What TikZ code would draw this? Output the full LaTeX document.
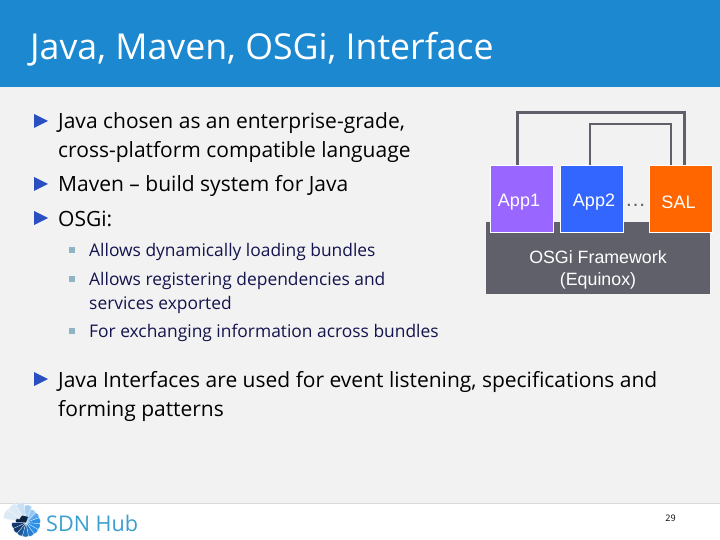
\documentclass[tikz,border=0pt]{standalone}
\usepackage{fontspec}
\setmainfont{Open Sans}
\newfontfamily\diagfont{Liberation Sans}
\usepackage{tikz}
\usetikzlibrary{positioning,calc}
\definecolor{headblue}{HTML}{1C88D0}
\definecolor{pagegrey}{HTML}{F2F2F2}
\definecolor{framegrey}{HTML}{5F6069}
\definecolor{bulletblue}{HTML}{2A4FC0}
\definecolor{subnavy}{HTML}{14144E}
\definecolor{subsquare}{HTML}{8FB4C4}
\definecolor{appviolet}{HTML}{9966FF}
\definecolor{appblue}{HTML}{3366FF}
\definecolor{salorange}{HTML}{FF6600}
\definecolor{logoblue}{HTML}{3AA0CF}
\definecolor{fanpale}{HTML}{DCEAF6}
\definecolor{fanbright}{HTML}{2C8FE8}
\definecolor{fandark}{HTML}{123A6E}
\begin{document}
\begin{tikzpicture}[
    x=1pt,
    y=-1pt,
    body/.style={anchor=base west, inner sep=0pt, font=\fontsize{21}{25}\selectfont},
    subtext/.style={anchor=base west, inner sep=0pt, text=subnavy, font=\fontsize{17.4}{21}\selectfont},
    appbox/.style={draw=white, line width=0.8pt, minimum width=63pt, minimum height=67pt, inner sep=0pt},
    applabel/.style={inner sep=0pt, text=white, font=\diagfont\fontsize{18}{20}\selectfont},
    thickbus/.style={draw=framegrey, line width=3pt},
    thinbus/.style={draw=framegrey, line width=2pt}
]
    % page, header and footer
    \useasboundingbox (0,0) rectangle (720,540);
    \fill[pagegrey] (0,0) rectangle (720,503);
    \fill[white] (0,503) rectangle (720,540);
    \draw[black!15, line width=0.8pt] (0,503) -- (720,503);
    \fill[headblue] (0,0) rectangle (720,87);
    \node[anchor=base west, inner sep=0pt, text=white, font=\fontsize{35.7}{40}\selectfont] (title) at (30,60) {Java, Maven, OSGi, Interface};

    % main bullets
    \foreach \y in {128,191,225,386}
        \fill[bulletblue] (34,\y-14) -- (48,\y-7) -- (34,\y) -- cycle;
    \node[body] (l1) at (58,129) {Java chosen as an enterprise-grade,};
    \node[body] (l2) at (58,158) {cross-platform compatible language};
    \node[body] (l3) at (58,192) {Maven -- build system for Java};
    \node[body] (l4) at (58,226) {OSGi:};
    \node[body] (l5) at (58,387) {Java Interfaces are used for event listening, specifications and};
    \node[body] (l6) at (58,416) {forming patterns};

    % sub bullets
    \foreach \y in {256,285,337}
        \fill[subsquare] (69,\y-9) rectangle (75,\y-3);
    \node[subtext] (s1) at (89,256) {Allows dynamically loading bundles};
    \node[subtext] (s2) at (89,285) {Allows registering dependencies and};
    \node[subtext] (s3) at (89,309) {services exported};
    \node[subtext] (s4) at (89,337) {For exchanging information across bundles};

    % framework and bundles
    \node[fill=framegrey, minimum width=224pt, minimum height=72pt, inner sep=0pt] (osgi) at (598,258) {};
    \node[text=white, align=center, font=\diagfont\fontsize{17.8}{22}\selectfont] (osgilabel) at (598,269.5) {OSGi Framework\\(Equinox)};
    \node[appbox, fill=appviolet] (app1) at (521.5,198.5) {};
    \node[appbox, fill=appblue] (app2) at (592,198.5) {};
    \node[appbox, fill=salorange] (sal) at (681,198.5) {};
    \node[applabel] (app1label) at (519,202) {App1};
    \node[applabel] (app2label) at (594,202) {App2};
    \node[applabel] (sallabel) at (678.5,202) {SAL};
    \node[font=\diagfont\fontsize{21}{20}\selectfont, text=framegrey] (dots) at (635.5,205) {\dots};

    % links
    \draw[thickbus] ($(app1.north)+(-4.5,0)$) |- ($(sal.north)+(3,-52)$) -- ($(sal.north)+(3,0)$);
    \draw[thinbus] ($(app2.north)+(-2,0)$) |- ($(sal.north)+(-10,-41)$) -- ($(sal.north)+(-10,0)$);

    % footer
    \coordinate (hub) at (26,522.5);
    \foreach \a/\r/\c in {190/23/fanpale,215/22/fanpale,240/20/fanpale!90!fanbright,265/17/fanpale!70!fanbright,
        290/14/fanbright!50!white,315/14/fanbright!80!white,340/14/fanbright,365/14/fanbright,390/14/fanbright,
        415/14/fanbright!80!fandark,440/14/fanbright!60!fandark,465/14/fanbright!35!fandark,490/14/fandark,515/14/fandark,540/10/fandark!70!black}
        \fill[\c, draw=white, line width=0.2pt] (hub) -- +(\a:\r) -- +(\a+12.5:\r+0.6) -- +(\a+25:\r) -- cycle;
    \fill[fandark!60!black] (hub) -- +(190:8) -- +(240:8) -- +(290:6) -- cycle;
    \node[anchor=base west, inner sep=0pt, text=logoblue, font=\fontsize{21.6}{28}\selectfont] (logo) at (46,531) {SDN Hub};
    \node[anchor=base, inner sep=0pt, font=\fontsize{9}{11}\selectfont] (pagenum) at (670.5,521) {29};
\end{tikzpicture}
\end{document}
